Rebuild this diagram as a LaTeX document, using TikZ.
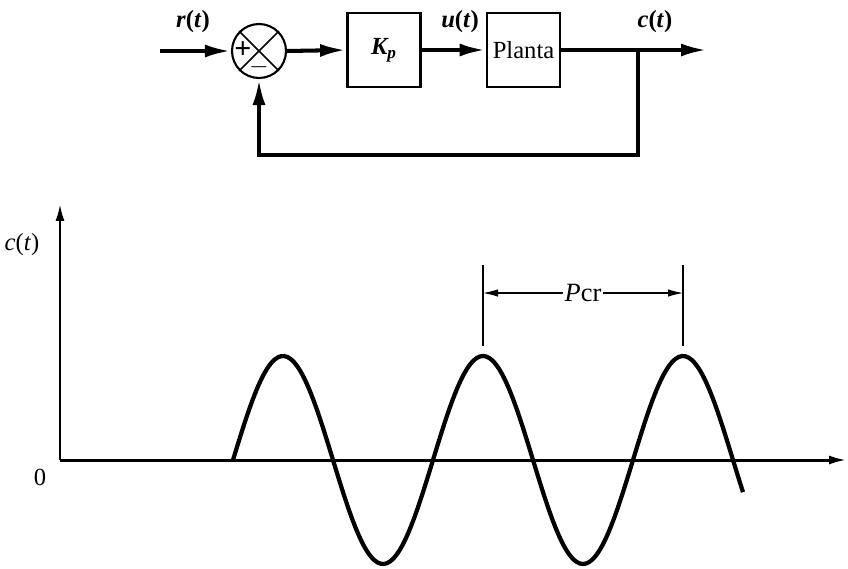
\documentclass[tikz,border=0pt]{standalone}
\usepackage{amsmath}
\usepackage{fontspec}
\setmainfont{Liberation Serif}
\usetikzlibrary{arrows.meta,positioning,calc}

\begin{document}
\begin{tikzpicture}[
    x=0.02cm, y=-0.02cm,
    >={Latex[length=0.52cm, width=0.26cm]},
    font=\fontsize{14}{16}\selectfont,
    blk/.style={draw, line width=1.6pt, minimum width=1.46cm, minimum height=1.48cm, inner sep=0pt},
    sumnode/.style={draw, circle, line width=1.2pt, minimum size=1.08cm, inner sep=0pt},
    sig/.style={line width=2.3pt},
    lbl/.style={font=\fontsize{14}{16}\selectfont\bfseries\itshape},
    axis/.style={->, line width=1.7pt, >={Latex[length=0.36cm, width=0.18cm]}},
    wave/.style={line width=2.4pt},
    dim/.style={line width=0.6pt}
]
    \useasboundingbox (0,0) rectangle (848,568);
    % block diagram
    \coordinate (rin) at (160,51);
    \node[sumnode] (sum) at (259,51) {};
    \draw[line width=0.9pt] (sum.45) -- (sum.225) (sum.135) -- (sum.315);
    \node[font=\fontsize{17}{17}\selectfont\bfseries] (plus) at (243,50) {+};
    \node (minus) at (259,67) {$-$};
    \node[blk, lbl] (kp) at (384,50) {K\textsubscript{p}};
    \node[blk] (planta) at (523.5,50) {Planta};
    \coordinate (branch) at (638,50);
    \coordinate (cout) at (707,50);
    \draw[sig,->] (rin) -- (sum.west);
    \draw[sig,->] (sum.east) -- (kp.west);
    \draw[sig,->] (kp.east) -- (planta.west);
    \draw[sig,->] (planta.east) -- (cout);
    \draw[sig,->] (branch) -- ++(0,105) -| (sum.south);
    \node[lbl] (rlab) at (193,22) {r\textup{(}t\textup{)}};
    \node[lbl] (ulab) at (460,22) {u\textup{(}t\textup{)}};
    \node[lbl] (clab) at (655,22) {c\textup{(}t\textup{)}};
    % response c(t)
    \coordinate (o) at (60,460);
    \draw[axis] (o) -- (60,203);
    \draw[axis] (o) -- (847,460);
    \node (cy) at (22,245) {\textit{c}(\textit{t})};
    \node (zero) at (40,477) {0};
    \draw[wave] plot[domain=0:510, samples=160, smooth] ({233+\x}, {460-104*sin(1.8*\x)});
    \coordinate (pk2) at (483,346);
    \coordinate (pk3) at (683,346);
    \draw[dim] (pk2) -- (483,265);
    \draw[dim] (pk3) -- (683,265);
    \draw[dim,<->,>={Latex[length=0.3cm, width=0.15cm]}] (483,293) -- node[fill=white, inner sep=1pt, font=\fontsize{15}{17}\selectfont] (pcr) {\textit{P}cr} (683,293);
\end{tikzpicture}
\end{document}
